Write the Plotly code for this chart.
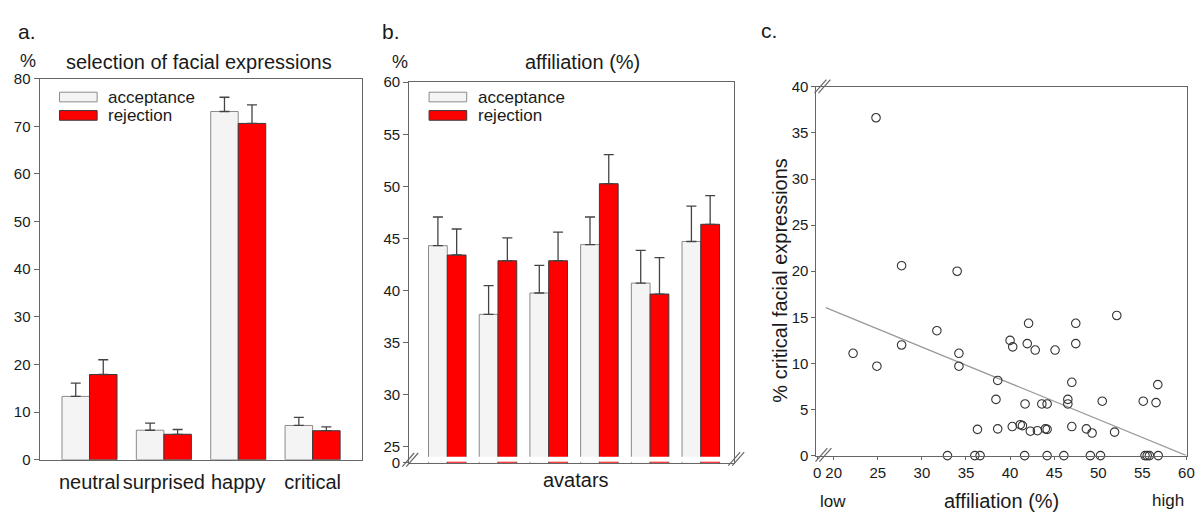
import plotly.graph_objects as go

W, H = 1203, 520

# ---------------- data ----------------
expr_categories = ["neutral", "surprised", "happy", "critical"]
expr_acceptance = [13.3, 6.2, 73.1, 7.2]
expr_acceptance_sem = [2.8, 1.5, 3.0, 1.7]
expr_rejection = [17.9, 5.35, 70.6, 6.1]
expr_rejection_sem = [3.1, 1.0, 3.9, 0.8]

avatar_ids = ["1", "2", "3", "4", "5", "6"]
aff_acceptance = [44.3, 37.7, 39.75, 44.4, 40.7, 44.7]
aff_acceptance_sem = [2.75, 2.75, 2.65, 2.65, 3.15, 3.4]
aff_rejection = [43.4, 42.85, 42.85, 50.25, 39.65, 46.35]
aff_rejection_sem = [2.5, 2.2, 2.75, 2.8, 3.5, 2.75]

scatter_affiliation = [24.8, 27.7, 34.0, 27.7, 22.2, 24.9, 31.7, 34.2, 34.2, 38.6,
                       38.4, 38.6, 36.3, 32.9, 36.0, 36.6, 40.0, 40.3, 41.95, 42.1,
                       42.85, 45.1, 41.7, 43.6, 44.2, 40.25, 41.15, 41.4, 42.3, 43.1,
                       44.0, 44.2, 41.65, 44.2, 46.1, 47.45, 47.45, 47.0, 46.55, 46.55,
                       47.0, 48.65, 49.3, 49.1, 50.25, 50.45, 52.1, 51.85, 55.1, 56.55,
                       56.75, 55.3, 55.55, 55.8, 56.8]
scatter_critical = [36.65, 20.6, 20.0, 12.0, 11.1, 9.7, 13.55, 11.1, 9.7, 8.15,
                    6.1, 2.9, 2.85, 0.0, 0.0, 0.0, 12.5, 11.8, 12.15, 14.35,
                    11.45, 11.45, 5.6, 5.6, 5.6, 3.15, 3.35, 3.25, 2.65, 2.7,
                    2.9, 2.85, 0.0, 0.0, 0.0, 14.35, 12.15, 7.95, 6.1, 5.6,
                    3.15, 2.9, 2.45, 0.0, 0.0, 5.9, 15.2, 2.55, 5.9, 5.75,
                    7.7, 0.0, 0.0, 0.0, 0.0]
trend_x = [19.1, 60.0]
trend_y = [16.05, 0.0]

x_ticks_c = [18.13, 20, 25, 30, 35, 40, 45, 50, 55, 60]
x_ticktext_c = ["0", "20", "25", "30", "35", "40", "45", "50", "55", "60"]
y_ticks_b = [23.45, 25, 30, 35, 40, 45, 50, 55, 60]
y_ticktext_b = ["0", "25", "30", "35", "40", "45", "50", "55", "60"]

# ---------------- style ----------------
FONT = "Liberation Sans, Arial, sans-serif"
TXT = "#1a1a1a"
AXC = "#666666"
ACC_FILL = "#f4f4f4"
ACC_LINE = "#8a8a8a"
REJ_FILL = "#ff0000"
REJ_LINE = "#3a3a3a"
ERRC = "#444444"


def px(x):
    return x / W


def py(y):
    return 1 - y / H


fig = go.Figure()

err_style = dict(type="data", symmetric=False, color=ERRC, thickness=1.3, width=5)

# panel a
fig.add_trace(go.Bar(x=expr_categories, y=expr_acceptance, name="acceptance",
                     marker=dict(color=ACC_FILL, line=dict(color=ACC_LINE, width=1)),
                     error_y=dict(array=expr_acceptance_sem, arrayminus=[0] * 4, **err_style),
                     xaxis="x", yaxis="y", showlegend=False))
fig.add_trace(go.Bar(x=expr_categories, y=expr_rejection, name="rejection",
                     marker=dict(color=REJ_FILL, line=dict(color=REJ_LINE, width=1)),
                     error_y=dict(array=expr_rejection_sem, arrayminus=[0] * 4, **err_style),
                     xaxis="x", yaxis="y", showlegend=False))
# panel b
fig.add_trace(go.Bar(x=avatar_ids, y=aff_acceptance, name="acceptance",
                     marker=dict(color=ACC_FILL, line=dict(color=ACC_LINE, width=1)),
                     error_y=dict(array=aff_acceptance_sem, arrayminus=[0] * 6, **err_style),
                     xaxis="x2", yaxis="y2", showlegend=False))
fig.add_trace(go.Bar(x=avatar_ids, y=aff_rejection, name="rejection",
                     marker=dict(color=REJ_FILL, line=dict(color=REJ_LINE, width=1)),
                     error_y=dict(array=aff_rejection_sem, arrayminus=[0] * 6, **err_style),
                     xaxis="x2", yaxis="y2", showlegend=False))
# panel c
fig.add_trace(go.Scatter(x=trend_x, y=trend_y, mode="lines",
                         line=dict(color="#9a9a9a", width=1.2),
                         xaxis="x3", yaxis="y3", showlegend=False, cliponaxis=False))
fig.add_trace(go.Scatter(x=scatter_affiliation, y=scatter_critical, mode="markers",
                         marker=dict(symbol="circle-open", size=8.5, color="#333333",
                                     line=dict(width=1.1, color="#333333")),
                         xaxis="x3", yaxis="y3", showlegend=False, cliponaxis=False))

axis_common = dict(showline=True, linecolor=AXC, linewidth=1.3, mirror=True,
                   showgrid=False, zeroline=False,
                   tickfont=dict(family=FONT, size=15, color=TXT))

fig.update_layout(
    width=W, height=H,
    margin=dict(l=0, r=0, t=0, b=0),
    paper_bgcolor="white", plot_bgcolor="white",
    barmode="group", bargap=0.26, bargroupgap=0,
    font=dict(family=FONT, color=TXT),
    showlegend=False,
    xaxis=dict(domain=[px(37), px(362)], anchor="y", range=[-0.67, 3.66],
               ticks="", ticklabelstandoff=4,
               **{**axis_common, "tickfont": dict(family=FONT, size=20, color=TXT)}),
    yaxis=dict(domain=[py(466), py(72)], anchor="x", range=[0, 80],
               tickvals=[0, 10, 20, 30, 40, 50, 60, 70, 80],
               ticks="outside", ticklen=5, tickcolor=AXC, **axis_common),
    xaxis2=dict(domain=[px(410), px(738)], anchor="y2", range=[-0.75, 5.66],
                ticks="", showticklabels=False, **axis_common),
    yaxis2=dict(domain=[py(469), py(75.7)], anchor="x2", range=[23.45, 60],
                tickvals=y_ticks_b, ticktext=y_ticktext_b,
                ticks="outside", ticklen=5, tickcolor=AXC, **axis_common),
    xaxis3=dict(domain=[px(821), px(1195)], anchor="y3", range=[18.05, 60.07],
                tickvals=x_ticks_c, ticktext=x_ticktext_c,
                ticks="outside", ticklen=3, tickcolor=AXC, **axis_common),
    yaxis3=dict(domain=[py(461.7), py(80.5)], anchor="x3", range=[0, 40],
                tickvals=[0, 5, 10, 15, 20, 25, 30, 35, 40],
                ticks="outside", ticklen=4, tickcolor=AXC, **axis_common),
)

shapes = []
# axis break gap in panel b (white band above the zero stubs)
shapes.append(dict(type="rect", xref="x2", yref="y2", x0=-0.6, x1=5.55, y0=23.53, y1=24.03,
                   fillcolor="white", line=dict(width=0), layer="above"))


def slash_pair(cx, cy, dx=6, dy=7, off=4):
    out = []
    for o in (-off / 2, off / 2):
        out.append(dict(type="line", xref="paper", yref="paper",
                        x0=px(cx + o - dx), y0=py(cy + dy), x1=px(cx + o + dx), y1=py(cy - dy),
                        line=dict(color=AXC, width=1.2), layer="above"))
    return out


shapes += slash_pair(411, 466)
shapes += slash_pair(740, 465)
shapes += slash_pair(827, 80)
shapes += slash_pair(828, 461)

# manual legends (wide swatches)
for x0 in (57, 430):
    shapes.append(dict(type="rect", xref="paper", yref="paper", x0=px(x0), x1=px(x0 + 38),
                       y0=py(96), y1=py(86), fillcolor=ACC_FILL, line=dict(color=ACC_LINE, width=1)))
    shapes.append(dict(type="rect", xref="paper", yref="paper", x0=px(x0), x1=px(x0 + 38),
                       y0=py(115), y1=py(105), fillcolor=REJ_FILL, line=dict(color=REJ_LINE, width=1)))

fig.update_layout(shapes=shapes)

ann = []


def text(s, x, y, size, xanchor="center", angle=0):
    ann.append(dict(text=s, x=px(x), y=py(y), xref="paper", yref="paper", showarrow=False,
                    xanchor=xanchor, yanchor="middle", textangle=angle,
                    font=dict(family=FONT, size=size, color=TXT)))


text("a.", 13, 23, 21, "left")
text("b.", 380, 23, 21, "left")
text("c.", 763, 22, 21, "left")
text("%", 25, 54, 18)
text("%", 401, 55, 18)
text("selection of facial expressions", 198, 55, 20)
text("affiliation (%)", 585, 55, 20)
text("avatars", 578, 487, 20)
text("% critical facial expressions", 784, 280, 20, angle=-90)
text("affiliation (%)", 1008, 509, 20)
text("low", 838, 509, 17)
text("high", 1176, 508, 17)
text("acceptance", 104, 91, 17, "left")
text("rejection", 104, 110, 17, "left")
text("acceptance", 477, 91, 17, "left")
text("rejection", 477, 110, 17, "left")

fig.update_layout(annotations=ann)

fig.write_html("out.html")
